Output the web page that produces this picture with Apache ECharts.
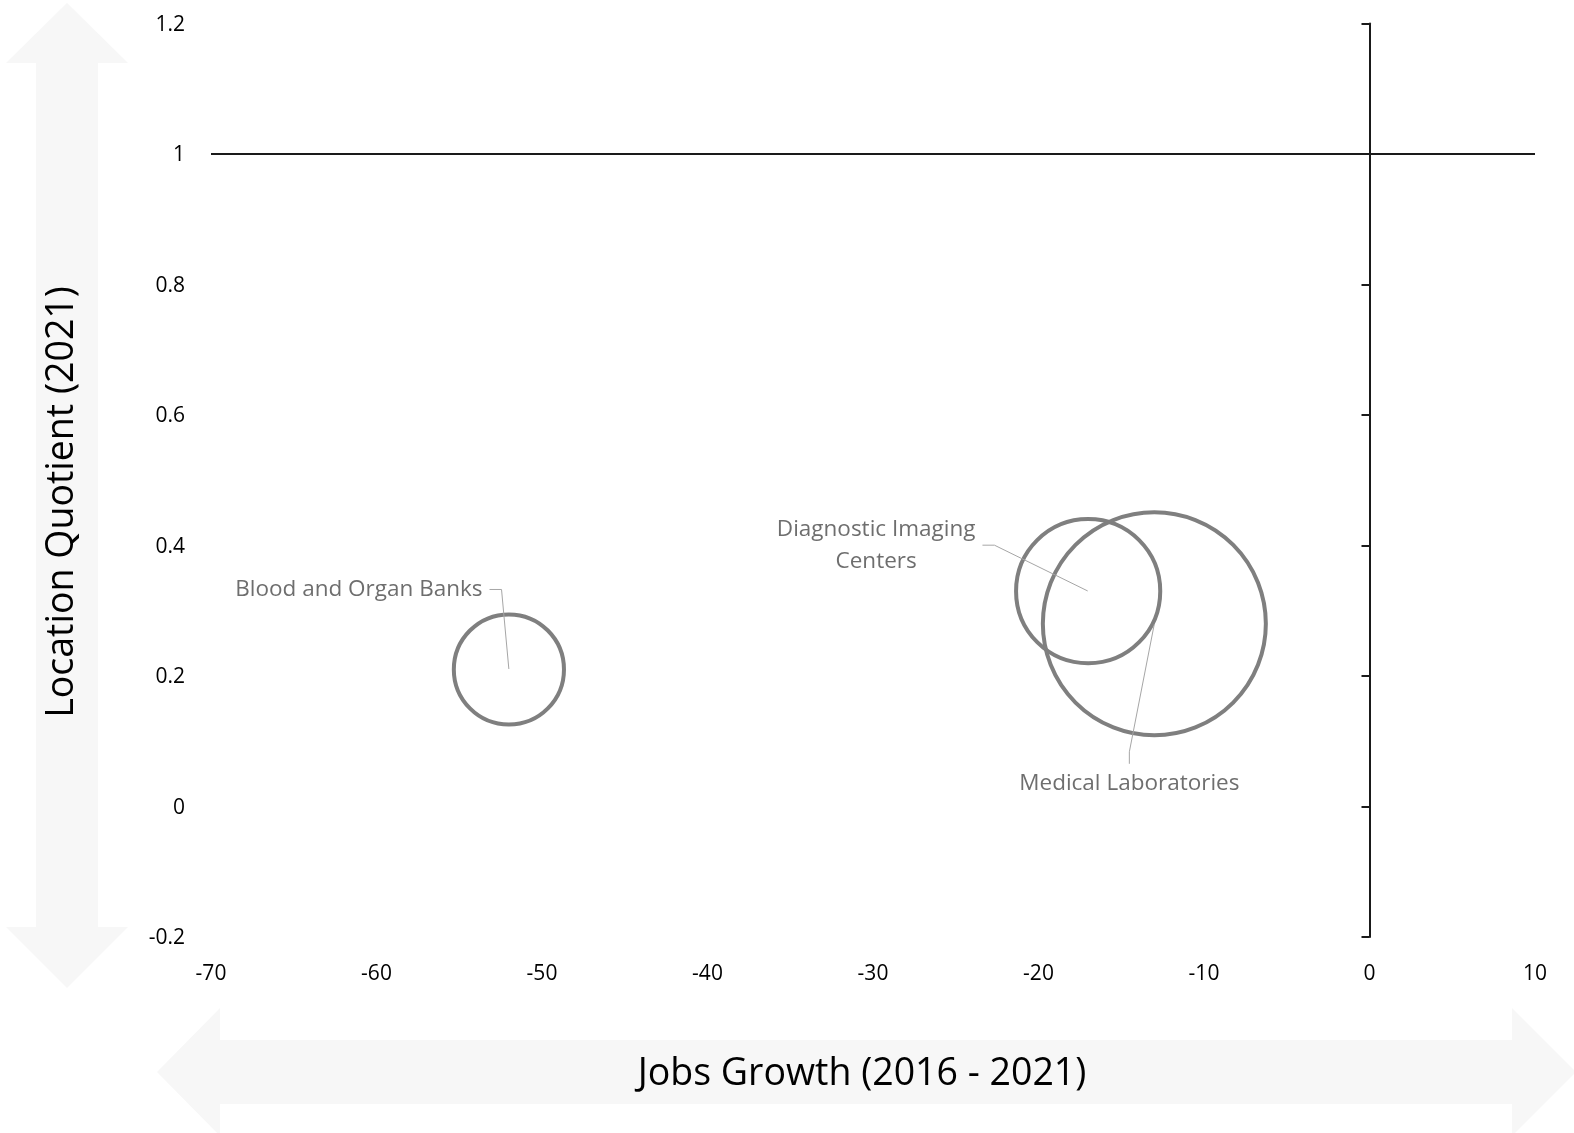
<!DOCTYPE html>
<html>
<head>
<meta charset="utf-8">
<script src="https://cdn.jsdelivr.net/npm/echarts@6/dist/echarts.min.js"></script>
<style>
html,body{margin:0;padding:0;background:#fff;}
#chart{width:1574px;height:1133px;}
</style>
</head>
<body>
<div id="chart"></div>
<script>
// ---- data ----
const categories = ['Blood and Organ Banks', 'Diagnostic Imaging\nCenters', 'Medical Laboratories'];
const jobsGrowth = [-52, -17, -13];            // x values (%)
const locationQuotient = [0.21, 0.33, 0.28];   // y values
const employment = [1220, 2090, 5000];         // bubble size values
const xRange = [-70, 10, 10];                  // min, max, interval
const yRange = [-0.2, 1.2, 0.2];
const xTitle = 'Jobs Growth (2016 - 2021)';
const yTitle = 'Location Quotient (2021)';

// ---- styling ----
const FONT = '"Open Sans", "Noto Sans", sans-serif';
const maxDiameter = 223;
const maxSize = Math.max.apply(null, employment);
const labelOffsets = [[-150, -80], [-212, -46], [-25, 160]];

const points = categories.map((c, i) => [jobsGrowth[i], locationQuotient[i], employment[i], c]);

const chart = echarts.init(document.getElementById('chart'), null, {renderer: 'canvas'});

const arrowFill = '#f7f7f7';
chart.setOption({
  animation: false,
  backgroundColor: '#fff',
  graphic: [
    { type: 'polygon', z: -10, silent: true,
      shape: { points: [[67,3],[128,63],[98,63],[98,927],[128,927],[67,988],[6,927],[36,927],[36,63],[6,63]] },
      style: { fill: arrowFill } },
    { type: 'polygon', z: -10, silent: true,
      shape: { points: [[157,1072],[220,1008],[220,1040],[1512,1040],[1512,1008],[1576,1072],[1512,1136],[1512,1104],[220,1104],[220,1136]] },
      style: { fill: arrowFill } },
    { type: 'text', x: 862, y: 1074, silent: true,
      style: { text: xTitle, fill: '#000', font: '37.5px ' + FONT, textAlign: 'center', textVerticalAlign: 'middle' } },
    { type: 'text', x: 62, y: 502, rotation: Math.PI / 2, silent: true,
      style: { text: yTitle, fill: '#000', font: '37.5px ' + FONT, textAlign: 'center', textVerticalAlign: 'middle' } }
  ],
  grid: { left: 211, right: 39, top: 23.5, bottom: 196, containLabel: false, outerBoundsMode: 'none' },
  xAxis: [{
    type: 'value', min: xRange[0], max: xRange[1], interval: xRange[2],
    axisLine: { show: false, onZero: false },
    axisTick: { show: false },
    splitLine: { show: false },
    axisLabel: { margin: 27, fontSize: 21, fontFamily: FONT, color: '#000' }
  }],
  yAxis: [{
    type: 'value', min: yRange[0], max: yRange[1], interval: yRange[2],
    axisLine: { show: false, onZero: false },
    axisTick: { show: false },
    splitLine: { show: false },
    axisLabel: { margin: 26, fontSize: 21, fontFamily: FONT, color: '#000',
      verticalAlign: 'top', padding: [-9, 0, 0, 0],
      formatter: v => String(Math.round(v * 10) / 10) }
  }, {
    type: 'value', min: yRange[0], max: yRange[1], interval: yRange[2],
    position: 'left',
    axisLine: { show: true, onZero: true, onZeroAxisIndex: 0, lineStyle: { color: '#1a1a1a', width: 2 } },
    axisTick: { show: true, inside: false, length: 8, lineStyle: { color: '#1a1a1a', width: 2 } },
    axisLabel: { show: false },
    splitLine: { show: false }
  }],
  series: [{
    type: 'scatter',
    name: 'bubbles',
    data: points,
    symbol: 'circle',
    symbolSize: v => maxDiameter * Math.sqrt(v[2] / maxSize),
    itemStyle: { color: 'rgba(0,0,0,0)', borderColor: '#7f7f7f', borderWidth: 4, opacity: 1 },
    emphasis: { disabled: true },
    silent: true,
    z: 3,
    markLine: {
      silent: true,
      symbol: ['none', 'none'],
      label: { show: false },
      lineStyle: { color: '#1a1a1a', width: 2, type: 'solid' },
      data: [{ yAxis: 1 }]
    }
  }, {
    type: 'scatter',
    name: 'labels',
    data: points,
    symbol: 'circle',
    symbolSize: 1,
    itemStyle: { color: 'rgba(0,0,0,0)' },
    emphasis: { disabled: true },
    silent: true,
    z: 4,
    label: {
      show: true, position: 'inside',
      formatter: p => p.data[3],
      fontSize: 22.5, fontFamily: FONT, color: '#4a4a4a', lineHeight: 32,
      align: 'center', padding: [4, 7, 4, 7]
    },
    labelLine: { show: true, length2: 12, minTurnAngle: 0, lineStyle: { color: '#a6a6a6', width: 1 } },
    labelLayout: p => ({ dx: labelOffsets[p.dataIndex][0], dy: labelOffsets[p.dataIndex][1] })
  }]
});
</script>
</body>
</html>
